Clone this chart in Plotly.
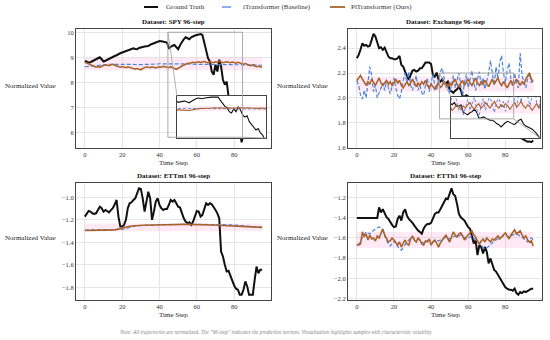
import plotly.graph_objects as go

W, H = 550, 340
steps = list(range(96))

datasets = ["SPY", "Exchange", "ETTm1", "ETTh1"]

gt_spy = [8.85, 8.82, 8.79, 8.80, 8.83, 8.88, 8.92, 8.96, 9.00, 8.92,
          8.83, 8.86, 8.90, 8.95, 9.00, 9.02, 9.05, 9.08, 9.13, 9.16,
          9.19, 9.22, 9.27, 9.29, 9.32, 9.34, 9.36, 9.33, 9.32, 9.37,
          9.40, 9.42, 9.43, 9.44, 9.45, 9.50, 9.53, 9.56, 9.59, 9.62,
          9.65, 9.64, 9.63, 9.62, 9.59, 9.36, 9.43, 9.46, 9.49, 9.40,
          9.32, 9.48, 9.63, 9.72, 9.80, 9.76, 9.72, 9.80, 9.85, 9.87,
          9.89, 9.90, 9.93, 9.89, 9.56, 9.20, 8.96, 8.83, 8.43, 8.30,
          8.70, 8.43, 8.90, 8.63, 8.10, 7.90, 8.03, 7.43, 7.16, 6.90,
          6.60, 6.75, 6.30, 6.10, 5.60, 5.90, 6.10, 6.00, 5.95, 6.05,
          6.00, 5.90, 5.95, 5.85, 5.90, 5.85]
it_spy = [8.62, 8.63, 8.64, 8.65, 8.66, 8.67, 8.68, 8.69, 8.69, 8.70,
          8.70, 8.71, 8.71, 8.72, 8.72, 8.72, 8.73, 8.73, 8.73, 8.74,
          8.74, 8.74, 8.73, 8.73, 8.72, 8.72, 8.71, 8.71, 8.70, 8.70,
          8.70, 8.70, 8.71, 8.71, 8.72, 8.72, 8.72, 8.73, 8.73, 8.73,
          8.74, 8.74, 8.74, 8.75, 8.75, 8.75, 8.76, 8.76, 8.76, 8.76,
          8.76, 8.76, 8.75, 8.75, 8.74, 8.74, 8.73, 8.73, 8.72, 8.72,
          8.71, 8.71, 8.70, 8.70, 8.69, 8.69, 8.69, 8.69, 8.70, 8.70,
          8.70, 8.70, 8.71, 8.71, 8.71, 8.72, 8.72, 8.72, 8.72, 8.72,
          8.72, 8.72, 8.72, 8.71, 8.71, 8.71, 8.70, 8.70, 8.70, 8.70,
          8.70, 8.69, 8.69, 8.69, 8.68, 8.68]
pi_spy = [8.80, 8.78, 8.74, 8.70, 8.66, 8.62, 8.60, 8.63, 8.60, 8.64,
          8.66, 8.70, 8.68, 8.66, 8.70, 8.72, 8.68, 8.65, 8.62, 8.60,
          8.63, 8.60, 8.58, 8.62, 8.60, 8.57, 8.55, 8.52, 8.55, 8.52,
          8.50, 8.55, 8.58, 8.62, 8.60, 8.58, 8.62, 8.60, 8.57, 8.60,
          8.62, 8.60, 8.64, 8.62, 8.60, 8.58, 8.62, 8.60, 8.55, 8.52,
          8.55, 8.60, 8.65, 8.70, 8.72, 8.76, 8.75, 8.78, 8.80, 8.78,
          8.80, 8.82, 8.79, 8.80, 8.83, 8.80, 8.78, 8.82, 8.80, 8.78,
          8.82, 8.80, 8.84, 8.81, 8.78, 8.80, 8.82, 8.80, 8.78, 8.81,
          8.79, 8.76, 8.80, 8.78, 8.74, 8.72, 8.75, 8.70, 8.68, 8.66,
          8.70, 8.65, 8.62, 8.64, 8.62, 8.60]

gt_exc = [2.32, 2.346, 2.39, 2.44, 2.42, 2.427, 2.413, 2.42, 2.467, 2.516,
          2.494, 2.454, 2.40, 2.408, 2.387, 2.405, 2.373, 2.333, 2.32, 2.32,
          2.311, 2.311, 2.32, 2.338, 2.265, 2.252, 2.211, 2.171, 2.144, 2.184,
          2.219, 2.225, 2.211, 2.219, 2.238, 2.238, 2.265, 2.284, 2.284, 2.284,
          2.273, 2.184, 2.171, 2.203, 2.149, 2.13, 2.149, 2.117, 2.117, 2.13,
          2.063, 2.05, 2.04, 2.058, 2.068, 2.09, 2.063, 2.01, 2.01, 2.02,
          2.01, 2.00, 1.99, 1.99, 1.98, 1.96, 1.95, 1.93, 1.95, 1.97,
          1.98, 1.97, 1.96, 1.95, 1.97, 1.99, 2.00, 1.96, 1.94, 1.93,
          1.925, 1.91, 1.89, 1.87, 1.84, 1.80, 1.76, 1.72, 1.69, 1.67,
          1.66, 1.65, 1.645, 1.648, 1.642, 1.655]
it_exc = [2.14, 2.10, 2.02, 1.99, 2.06, 2.00, 2.12, 2.25, 2.18, 2.05,
          2.10, 2.00, 2.04, 2.08, 2.12, 2.06, 2.14, 2.08, 2.03, 2.10,
          2.16, 2.08, 2.02, 1.99, 2.05, 2.14, 2.20, 2.12, 2.21, 2.10,
          2.06, 2.12, 2.18, 2.06, 2.10, 2.04, 2.02, 2.10, 2.16, 2.05,
          2.12, 2.19, 2.10, 2.06, 2.15, 2.21, 2.24, 2.17, 2.08, 2.12,
          2.04, 2.10, 2.18, 2.08, 2.14, 2.20, 2.10, 2.02, 2.12, 2.19,
          2.08, 2.14, 2.22, 2.12, 2.06, 2.15, 2.21, 2.10, 2.16, 2.07,
          2.13, 2.20, 2.30, 2.18, 2.10, 2.25, 2.15, 2.29, 2.34, 2.20,
          2.12, 2.22, 2.28, 2.15, 2.10, 2.20, 2.12, 2.08, 2.36, 2.18,
          2.12, 2.08, 2.15, 2.20, 2.12, 2.15]
pi_exc = [2.14, 2.16, 2.18, 2.15, 2.12, 2.10, 2.13, 2.11, 2.15, 2.12,
          2.10, 2.13, 2.16, 2.12, 2.10, 2.12, 2.14, 2.11, 2.13, 2.10,
          2.12, 2.15, 2.12, 2.14, 2.10, 2.08, 2.11, 2.13, 2.10, 2.12,
          2.15, 2.12, 2.09, 2.12, 2.10, 2.13, 2.11, 2.14, 2.10, 2.08,
          2.11, 2.09, 2.07, 2.10, 2.12, 2.08, 2.10, 2.13, 2.11, 2.09,
          2.12, 2.10, 2.13, 2.15, 2.11, 2.09, 2.12, 2.14, 2.10, 2.12,
          2.15, 2.12, 2.10, 2.13, 2.16, 2.12, 2.10, 2.13, 2.11, 2.14,
          2.12, 2.09, 2.12, 2.15, 2.11, 2.13, 2.16, 2.12, 2.10, 2.13,
          2.11, 2.08, 2.11, 2.14, 2.10, 2.12, 2.15, 2.12, 2.10, 2.13,
          2.11, 2.15, 2.18, 2.20, 2.15, 2.13]

gt_m1 = [-1.171, -1.142, -1.121, -1.127, -1.142, -1.147, -1.142, -1.112, -1.083, -1.097,
         -1.127, -1.112, -1.121, -1.133, -1.112, -1.097, -1.062, -1.024, -1.171, -1.26,
         -1.26, -1.245, -1.20, -1.097, -1.053, -1.044, -1.024, -1.009, -0.965, -0.92,
         -0.926, -1.009, -1.127, -1.024, -0.95, -1.009, -1.20, -1.127, -1.038, -1.009,
         -1.068, -1.097, -1.112, -1.103, -1.103, -1.068, -1.024, -1.038, -1.024, -1.053,
         -1.083, -1.091, -1.142, -1.186, -1.215, -1.23, -1.221, -1.245, -1.215, -1.156,
         -1.121, -1.127, -1.171, -1.156, -1.097, -1.053, -1.068, -1.053, -1.062, -1.083,
         -1.112, -1.142, -1.186, -1.481, -1.525, -1.599, -1.658, -1.652, -1.702, -1.746,
         -1.782, -1.811, -1.82, -1.864, -1.864, -1.82, -1.746, -1.791, -1.864, -1.864,
         -1.864, -1.732, -1.614, -1.673, -1.643, -1.643]
it_m1 = [-1.290, -1.289, -1.289, -1.288, -1.288, -1.288, -1.287, -1.287, -1.287, -1.287,
         -1.288, -1.288, -1.289, -1.289, -1.289, -1.289, -1.289, -1.289, -1.288, -1.287,
         -1.285, -1.281, -1.276, -1.271, -1.266, -1.262, -1.258, -1.255, -1.253, -1.251,
         -1.250, -1.249, -1.248, -1.248, -1.247, -1.247, -1.246, -1.246, -1.245, -1.245,
         -1.245, -1.244, -1.244, -1.244, -1.243, -1.243, -1.243, -1.242, -1.242, -1.242,
         -1.241, -1.241, -1.241, -1.240, -1.240, -1.240, -1.239, -1.239, -1.239, -1.238,
         -1.238, -1.238, -1.238, -1.238, -1.238, -1.238, -1.238, -1.239, -1.239, -1.239,
         -1.240, -1.240, -1.240, -1.241, -1.241, -1.242, -1.242, -1.243, -1.244, -1.245,
         -1.246, -1.247, -1.248, -1.250, -1.251, -1.253, -1.254, -1.256, -1.257, -1.259,
         -1.260, -1.261, -1.263, -1.264, -1.265, -1.266]
pi_m1 = [-1.295, -1.294, -1.293, -1.292, -1.292, -1.291, -1.291, -1.290, -1.290, -1.290,
         -1.291, -1.291, -1.292, -1.292, -1.291, -1.290, -1.289, -1.287, -1.283, -1.278,
         -1.272, -1.267, -1.263, -1.260, -1.257, -1.255, -1.253, -1.251, -1.250, -1.249,
         -1.249, -1.248, -1.248, -1.247, -1.247, -1.246, -1.246, -1.246, -1.245, -1.245,
         -1.245, -1.244, -1.244, -1.244, -1.243, -1.243, -1.243, -1.242, -1.242, -1.242,
         -1.241, -1.241, -1.241, -1.240, -1.240, -1.240, -1.239, -1.239, -1.239, -1.239,
         -1.239, -1.240, -1.240, -1.241, -1.241, -1.242, -1.243, -1.244, -1.245, -1.246,
         -1.247, -1.248, -1.249, -1.250, -1.250, -1.251, -1.252, -1.253, -1.254, -1.255,
         -1.256, -1.257, -1.258, -1.259, -1.260, -1.261, -1.262, -1.262, -1.263, -1.264,
         -1.264, -1.265, -1.265, -1.266, -1.266, -1.267]

gt_h1 = [-1.402, -1.402, -1.402, -1.402, -1.402, -1.402, -1.402, -1.402, -1.402, -1.402,
         -1.402, -1.402, -1.298, -1.347, -1.315, -1.363, -1.395, -1.412, -1.444, -1.47,
         -1.493, -1.487, -1.412, -1.379, -1.428, -1.347, -1.315, -1.379, -1.412, -1.428,
         -1.451, -1.477, -1.503, -1.526, -1.542, -1.558, -1.509, -1.477, -1.461, -1.461,
         -1.451, -1.412, -1.363, -1.347, -1.347, -1.315, -1.281, -1.249, -1.21, -1.216,
         -1.151, -1.109, -1.167, -1.184, -1.265, -1.363, -1.395, -1.412, -1.428, -1.461,
         -1.493, -1.509, -1.591, -1.656, -1.623, -1.77, -1.672, -1.689, -1.754, -1.689,
         -1.737, -1.851, -1.803, -1.868, -1.917, -1.933, -1.965, -1.998, -2.037, -2.07,
         -2.089, -2.102, -2.112, -2.112, -2.122, -2.102, -2.145, -2.161, -2.135, -2.145,
         -2.128, -2.135, -2.122, -2.115, -2.102, -2.102]
it_h1 = [-1.67, -1.66, -1.63, -1.60, -1.56, -1.54, -1.55, -1.56, -1.54, -1.52,
         -1.51, -1.50, -1.49, -1.50, -1.53, -1.58, -1.63, -1.66, -1.68, -1.65,
         -1.63, -1.66, -1.69, -1.71, -1.72, -1.69, -1.66, -1.64, -1.62, -1.60,
         -1.59, -1.61, -1.62, -1.61, -1.63, -1.64, -1.65, -1.64, -1.63, -1.62,
         -1.63, -1.64, -1.63, -1.62, -1.63, -1.62, -1.61, -1.60, -1.59, -1.60,
         -1.61, -1.60, -1.59, -1.58, -1.59, -1.58, -1.57, -1.58, -1.60, -1.61,
         -1.60, -1.59, -1.58, -1.60, -1.62, -1.64, -1.66, -1.68, -1.70, -1.71,
         -1.70, -1.68, -1.66, -1.64, -1.63, -1.62, -1.61, -1.60, -1.59, -1.58,
         -1.57, -1.58, -1.59, -1.58, -1.57, -1.56, -1.56, -1.57, -1.58, -1.59,
         -1.61, -1.63, -1.64, -1.62, -1.60, -1.62]
pi_h1 = [-1.67, -1.67, -1.66, -1.54, -1.59, -1.56, -1.62, -1.57, -1.61, -1.60,
         -1.63, -1.58, -1.60, -1.56, -1.51, -1.57, -1.60, -1.64, -1.63, -1.60,
         -1.62, -1.65, -1.67, -1.64, -1.69, -1.65, -1.62, -1.66, -1.67, -1.61,
         -1.58, -1.62, -1.64, -1.60, -1.62, -1.66, -1.67, -1.63, -1.64, -1.61,
         -1.67, -1.64, -1.62, -1.65, -1.69, -1.65, -1.62, -1.60, -1.57, -1.61,
         -1.64, -1.59, -1.54, -1.57, -1.59, -1.56, -1.55, -1.58, -1.62, -1.59,
         -1.57, -1.55, -1.53, -1.57, -1.59, -1.63, -1.66, -1.63, -1.61, -1.64,
         -1.60, -1.62, -1.64, -1.61, -1.62, -1.60, -1.58, -1.61, -1.59, -1.57,
         -1.55, -1.58, -1.61, -1.57, -1.54, -1.52, -1.56, -1.54, -1.53, -1.57,
         -1.60, -1.58, -1.62, -1.64, -1.63, -1.68]

band_lo = [8.48, 2.05, -1.300, -1.70]
band_hi = [8.98, 2.17, -1.232, -1.54]

y_ranges = [[5.37, 10.13], [1.595, 2.555], [-1.911, -0.873], [-2.214, -1.056]]
y_ticks = [[6, 7, 8, 9, 10], [1.6, 1.8, 2.0, 2.2, 2.4],
           [-1.8, -1.6, -1.4, -1.2, -1.0], [-2.2, -2.0, -1.8, -1.6, -1.4, -1.2]]
y_fmt = ["d", ".1f", ".1f", ".1f"]
x_ticks = [0, 20, 40, 60, 80]
x_range = [-4.75, 99.75]

# zoom windows (x window, y window)
zoom_x = [[44.5, 84.5], [44.5, 84.5]]
zoom_y = [[5.8, 10.0], [1.83, 2.2]]

GT, ITR, PIT = "Ground Truth", "iTransformer (Baseline)", "PiTransformer (Ours)"
series = [(gt_spy, it_spy, pi_spy), (gt_exc, it_exc, pi_exc),
          (gt_m1, it_m1, pi_m1), (gt_h1, it_h1, pi_h1)]

C_GT, C_IT, C_PI = "#111111", "#4d85da", "#a9622c"
C_BAND = "rgba(255,120,190,0.16)"
FONT = "Liberation Serif"

# pixel boxes for axes (x0, x1, y0_top, y1_bottom)
boxes = [(76, 271, 29, 148), (348, 542, 29, 148), (76, 271, 183, 300), (348, 542, 183, 300)]
inset_boxes = [(177, 266, 96, 138), (451, 540, 97, 138)]
# manual legend: (line x0, line x1, text x)
legend_pos = [(144, 158, 164), (222, 237, 241), (330, 345, 349)]


def xd(px):
    return px / W


def yd(py):
    return 1 - py / H


fig = go.Figure()
layout = dict(width=W, height=H, margin=dict(l=0, r=0, t=0, b=0, autoexpand=False),
              paper_bgcolor="white", plot_bgcolor="white",
              font=dict(family=FONT, color="#222"), showlegend=False)

annotations = []
shapes = []

for i, name in enumerate(datasets):
    ax = "" if i == 0 else str(i + 1)
    x0, x1, yt, yb = boxes[i]
    layout["xaxis" + ax] = dict(domain=[xd(x0), xd(x1)], range=x_range, anchor="y" + ax,
                                tickvals=x_ticks, showgrid=True, gridcolor="#e6e6e6", gridwidth=0.8,
                                showline=True, mirror=True, linecolor="#444", linewidth=1,
                                zeroline=False, ticks="", tickfont=dict(size=6.5, color="#333"))
    layout["yaxis" + ax] = dict(domain=[yd(yb), yd(yt)], range=y_ranges[i], anchor="x" + ax,
                                tickvals=y_ticks[i], tickformat=y_fmt[i], showgrid=True,
                                gridcolor="#e6e6e6", gridwidth=0.8,
                                showline=True, mirror=True, linecolor="#444", linewidth=1,
                                zeroline=False, ticks="", tickfont=dict(size=6.5, color="#333"))
    gt, it, pi = series[i]
    xa, ya = "x" + ax, "y" + ax
    fig.add_trace(go.Scatter(x=steps, y=[band_lo[i]] * len(steps), mode="lines", line=dict(width=0),
                             hoverinfo="skip", xaxis=xa, yaxis=ya))
    fig.add_trace(go.Scatter(x=steps, y=[band_hi[i]] * len(steps), mode="lines", line=dict(width=0),
                             fill="tonexty", fillcolor=C_BAND, hoverinfo="skip",
                             xaxis=xa, yaxis=ya))
    fig.add_trace(go.Scatter(x=steps, y=gt, mode="lines", name=GT, line=dict(color=C_GT, width=2),
                             xaxis=xa, yaxis=ya))
    fig.add_trace(go.Scatter(x=steps, y=it, mode="lines", name=ITR,
                             line=dict(color=C_IT, width=1.2, dash="4px,2px"), xaxis=xa, yaxis=ya))
    fig.add_trace(go.Scatter(x=steps, y=pi, mode="lines", name=PIT, line=dict(color=C_PI, width=1.6),
                             xaxis=xa, yaxis=ya))

    cx = (x0 + x1) / 2
    annotations.append(dict(text="<b>Dataset: %s 96-step</b>" % name, x=xd(cx), y=yd(yt - 7),
                            xref="paper", yref="paper", showarrow=False, xanchor="center",
                            yanchor="middle", font=dict(size=7, color="#111")))
    annotations.append(dict(text="Time Step", x=xd(cx), y=yd(yb + 14.5), xref="paper", yref="paper",
                            showarrow=False, xanchor="center", yanchor="middle",
                            font=dict(size=7, color="#222")))
    annotations.append(dict(text="Normalized Value", x=xd(x0 - 18), y=yd((yt + yb) / 2 - 3),
                            xref="paper", yref="paper", showarrow=False, xanchor="right",
                            yanchor="middle", font=dict(size=7, color="#222")))

# insets
for k in range(2):
    ax = str(5 + k)
    i = k
    bx0, bx1, byt, byb = inset_boxes[k]
    layout["xaxis" + ax] = dict(domain=[xd(bx0), xd(bx1)], range=zoom_x[k], anchor="y" + ax,
                                showticklabels=False, showgrid=False, zeroline=False, ticks="",
                                showline=True, mirror=True, linecolor="#444", linewidth=1)
    layout["yaxis" + ax] = dict(domain=[yd(byb), yd(byt)], range=zoom_y[k], anchor="x" + ax,
                                showticklabels=False, showgrid=False, zeroline=False, ticks="",
                                showline=True, mirror=True, linecolor="#444", linewidth=1)
    xa, ya = "x" + ax, "y" + ax
    zx, zy = zoom_x[k], zoom_y[k]
    fig.add_trace(go.Scatter(x=[zx[0], zx[1], zx[1], zx[0], zx[0]], y=[zy[0], zy[0], zy[1], zy[1], zy[0]],
                             mode="lines", fill="toself", fillcolor="white", line=dict(width=0),
                             hoverinfo="skip", xaxis=xa, yaxis=ya))
    gt, it, pi = series[i]
    fig.add_trace(go.Scatter(x=steps, y=[band_lo[i]] * len(steps), mode="lines", line=dict(width=0),
                             hoverinfo="skip", xaxis=xa, yaxis=ya))
    fig.add_trace(go.Scatter(x=steps, y=[band_hi[i]] * len(steps), mode="lines", line=dict(width=0),
                             fill="tonexty", fillcolor=C_BAND, hoverinfo="skip", xaxis=xa, yaxis=ya))
    fig.add_trace(go.Scatter(x=steps, y=gt, mode="lines", line=dict(color=C_GT, width=1.1),
                             xaxis=xa, yaxis=ya))
    fig.add_trace(go.Scatter(x=steps, y=it, mode="lines", line=dict(color=C_IT, width=0.9, dash="3px,2px"),
                             xaxis=xa, yaxis=ya))
    fig.add_trace(go.Scatter(x=steps, y=pi, mode="lines", line=dict(color=C_PI, width=1.1),
                             xaxis=xa, yaxis=ya))

    # rectangle on main axes
    mx = "x" if i == 0 else "x%d" % (i + 1)
    my = "y" if i == 0 else "y%d" % (i + 1)
    shapes.append(dict(type="rect", xref=mx, yref=my, x0=zx[0], x1=zx[1], y0=zy[0], y1=zy[1],
                       line=dict(color="#a0a0a0", width=0.9), layer="above"))
    # connectors (upper-left and lower-right)
    px0, px1, pyt, pyb = boxes[i]
    xr, yr = x_range, y_ranges[i]

    def tpx(t):
        return xd(px0) + (t - xr[0]) / (xr[1] - xr[0]) * (xd(px1) - xd(px0))

    def tpy(v):
        return yd(pyb) + (v - yr[0]) / (yr[1] - yr[0]) * (yd(pyt) - yd(pyb))

    shapes.append(dict(type="line", xref="paper", yref="paper", x0=tpx(zx[0]), y0=tpy(zy[1]),
                       x1=xd(bx0), y1=yd(byt), line=dict(color="#a0a0a0", width=0.8), layer="above"))
    shapes.append(dict(type="line", xref="paper", yref="paper", x0=tpx(zx[1]), y0=tpy(zy[0]),
                       x1=xd(bx1), y1=yd(byb), line=dict(color="#a0a0a0", width=0.8), layer="above"))

# manual legend
leg_styles = [(GT, C_GT, 2, "solid"), (ITR, C_IT, 1.3, "dash"), (PIT, C_PI, 1.8, "solid")]
for (lx0, lx1, tx), (lab, col, lw, dsh) in zip(legend_pos, leg_styles):
    shapes.append(dict(type="line", xref="paper", yref="paper", x0=xd(lx0), x1=xd(lx1), y0=yd(7), y1=yd(7),
                       line=dict(color=col, width=lw, dash=dsh)))
    annotations.append(dict(text=lab, x=xd(tx), y=yd(7), xref="paper", yref="paper", showarrow=False,
                            xanchor="left", yanchor="middle", font=dict(size=7, color="#333")))

annotations.append(dict(
    text="<i>Note: All trajectories are normalized. The \"96-step\" indicates the prediction horizon. "
         "Visualization highlights samples with characteristic volatility.</i>",
    x=0.5, y=yd(332), xref="paper", yref="paper", showarrow=False, xanchor="center", yanchor="middle",
    font=dict(size=5.3, color="#888")))

layout["annotations"] = annotations
layout["shapes"] = shapes
fig.update_layout(**layout)
fig.write_html("out.html", config={"displayModeBar": False},
               post_script="document.body.style.margin='0';document.body.style.overflow='hidden';")
